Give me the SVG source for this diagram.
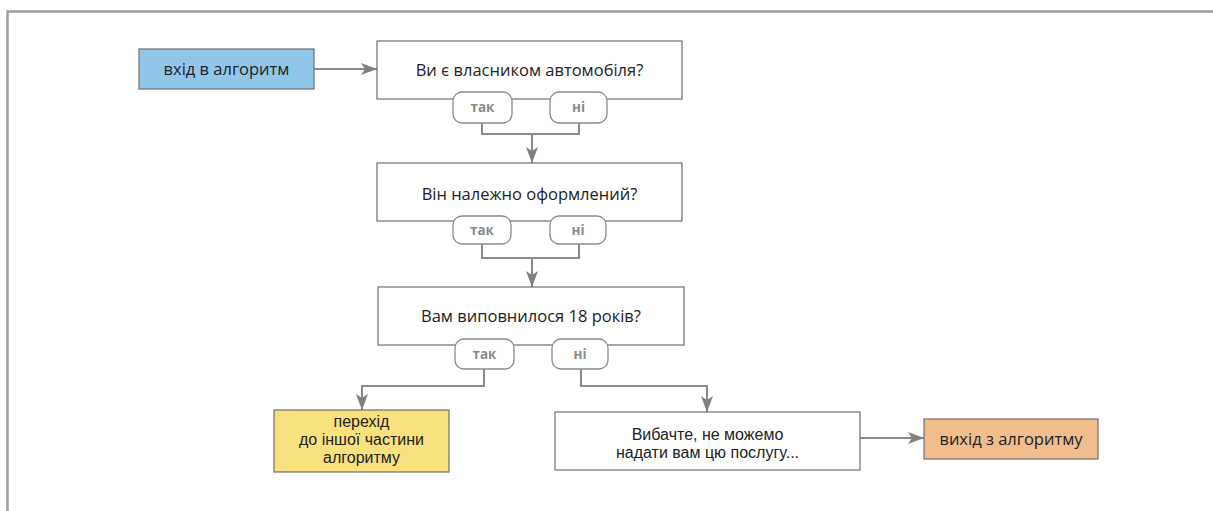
<svg xmlns="http://www.w3.org/2000/svg" width="1213" height="511" viewBox="0 0 1213 511">
  <style>
    text { font-family: "Open Sans", "Noto Sans", "Liberation Sans", sans-serif; fill: #222; text-anchor: middle; }
    .lbl { font-size: 16.5px; }
    .multi { font-family: "Liberation Sans", Arial, sans-serif; font-size: 16px; }
    .pill { fill: #fff; stroke: #8a8a8a; stroke-width: 1.3; }
    .pilltxt { font-size: 13.5px; font-weight: bold; fill: #8a8a8a; }
    .box { stroke: #6f6f6f; stroke-width: 1.2; }
    .wire { fill: none; stroke: #8a8a8a; stroke-width: 2; }
  </style>
  <defs>
    <marker id="arrow" viewBox="0 0 16 12" refX="16" refY="6" markerWidth="16" markerHeight="12" markerUnits="userSpaceOnUse" orient="auto">
      <path d="M0,0 L16,6 L0,12 L4,6 Z" fill="#808080"/>
    </marker>
  </defs>

  <rect width="1213" height="511" fill="#fff"/>
  <!-- frame -->
  <path d="M7.5,511 V11.5 H1213" fill="none" stroke="#9d9d9d" stroke-width="2.5"/>

  <!-- connectors -->
  <g id="connectors">
    <path class="wire" d="M314,69 H377" marker-end="url(#arrow)"/>
    <path class="wire" d="M482,123 V134 H579 V123 M532,134 V163" marker-end="url(#arrow)"/>
    <path class="wire" d="M482,244 V258 H579 V244 M532,258 V287" marker-end="url(#arrow)"/>
    <path class="wire" d="M484,369 V386 H362 V410" marker-end="url(#arrow)"/>
    <path class="wire" d="M581,369 V386 H707 V412" marker-end="url(#arrow)"/>
    <path class="wire" d="M860,438 H924" marker-end="url(#arrow)"/>
  </g>

  <g id="start">
    <rect class="box" x="139" y="49" width="175" height="40" fill="#90c6ea"/>
    <text class="lbl" x="226.5" y="75">вхід в алгоритм</text>
  </g>

  <g id="q1">
    <rect class="box" x="377" y="41" width="305" height="58" fill="#fff"/>
    <text class="lbl" x="529.5" y="76">Ви є власником автомобіля?</text>
    <rect class="pill" x="453" y="92" width="59" height="31" rx="9"/>
    <text class="pilltxt" x="482.5" y="112">так</text>
    <rect class="pill" x="550" y="92" width="57" height="31" rx="9"/>
    <text class="pilltxt" x="578.5" y="112">ні</text>
  </g>

  <g id="q2">
    <rect class="box" x="377" y="163" width="305" height="58" fill="#fff"/>
    <text class="lbl" x="529.5" y="200">Він належно оформлений?</text>
    <rect class="pill" x="453" y="216" width="58" height="28" rx="9"/>
    <text class="pilltxt" x="482" y="235">так</text>
    <rect class="pill" x="550" y="216" width="56" height="28" rx="9"/>
    <text class="pilltxt" x="578" y="235">ні</text>
  </g>

  <g id="q3">
    <rect class="box" x="378" y="287" width="306" height="58" fill="#fff"/>
    <text class="lbl" x="531" y="322">Вам виповнилося 18 років?</text>
    <rect class="pill" x="455" y="339" width="59" height="30" rx="9"/>
    <text class="pilltxt" x="484.5" y="359">так</text>
    <rect class="pill" x="552" y="339" width="56" height="30" rx="9"/>
    <text class="pilltxt" x="580" y="359">ні</text>
  </g>

  <g id="next-part">
    <rect class="box" x="274" y="410" width="175" height="62" fill="#f9e17e"/>
    <text class="multi" x="361.5" y="427">перехід<tspan x="361.5" dy="18">до іншої частини</tspan><tspan x="361.5" dy="18">алгоритму</tspan></text>
  </g>

  <g id="refusal">
    <rect class="box" x="555" y="412" width="305" height="58" fill="#fff"/>
    <text class="multi" x="707.5" y="440">Вибачте, не можемо<tspan x="707.5" dy="18">надати вам цю послугу...</tspan></text>
  </g>

  <g id="exit">
    <rect class="box" x="924" y="419" width="174" height="40" fill="#f2bd8c"/>
    <text class="lbl" x="1011" y="445">вихід з алгоритму</text>
  </g>
</svg>
